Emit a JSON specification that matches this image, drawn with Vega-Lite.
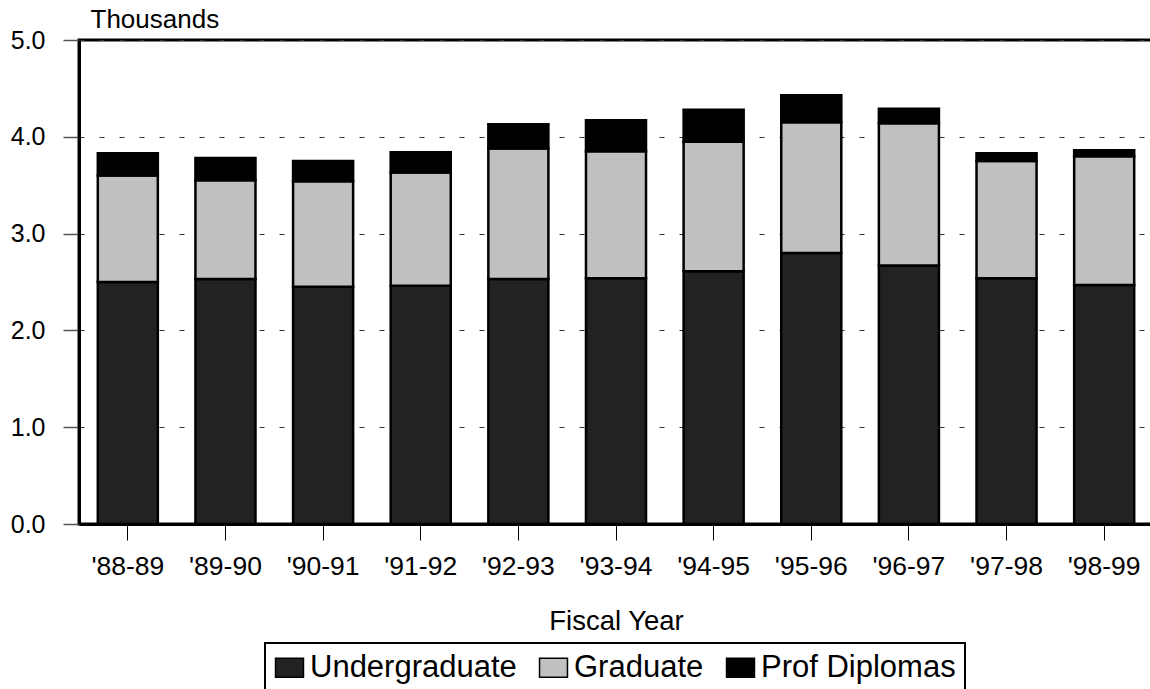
{
  "$schema": "https://vega.github.io/schema/vega-lite/v6.json",
  "autosize": "none",
  "width": 1074,
  "height": 484,
  "padding": {"left": 79, "top": 40, "right": 0, "bottom": 165},
  "background": "white",
  "config": {
    "font": "Liberation Sans",
    "view": {"stroke": "black", "strokeWidth": 3},
    "axis": {"labelColor": "black", "titleColor": "black", "titleFontWeight": "normal"}
  },
  "data": {
    "values": [
      {"year": "'88-89", "level": "Undergraduate", "k": 1, "value": 2.50},
      {"year": "'88-89", "level": "Graduate", "k": 2, "value": 1.10},
      {"year": "'88-89", "level": "Prof Diplomas", "k": 3, "value": 0.23},
      {"year": "'89-90", "level": "Undergraduate", "k": 1, "value": 2.53},
      {"year": "'89-90", "level": "Graduate", "k": 2, "value": 1.02},
      {"year": "'89-90", "level": "Prof Diplomas", "k": 3, "value": 0.23},
      {"year": "'90-91", "level": "Undergraduate", "k": 1, "value": 2.45},
      {"year": "'90-91", "level": "Graduate", "k": 2, "value": 1.09},
      {"year": "'90-91", "level": "Prof Diplomas", "k": 3, "value": 0.21},
      {"year": "'91-92", "level": "Undergraduate", "k": 1, "value": 2.46},
      {"year": "'91-92", "level": "Graduate", "k": 2, "value": 1.17},
      {"year": "'91-92", "level": "Prof Diplomas", "k": 3, "value": 0.21},
      {"year": "'92-93", "level": "Undergraduate", "k": 1, "value": 2.53},
      {"year": "'92-93", "level": "Graduate", "k": 2, "value": 1.35},
      {"year": "'92-93", "level": "Prof Diplomas", "k": 3, "value": 0.25},
      {"year": "'93-94", "level": "Undergraduate", "k": 1, "value": 2.54},
      {"year": "'93-94", "level": "Graduate", "k": 2, "value": 1.31},
      {"year": "'93-94", "level": "Prof Diplomas", "k": 3, "value": 0.32},
      {"year": "'94-95", "level": "Undergraduate", "k": 1, "value": 2.61},
      {"year": "'94-95", "level": "Graduate", "k": 2, "value": 1.34},
      {"year": "'94-95", "level": "Prof Diplomas", "k": 3, "value": 0.33},
      {"year": "'95-96", "level": "Undergraduate", "k": 1, "value": 2.80},
      {"year": "'95-96", "level": "Graduate", "k": 2, "value": 1.35},
      {"year": "'95-96", "level": "Prof Diplomas", "k": 3, "value": 0.28},
      {"year": "'96-97", "level": "Undergraduate", "k": 1, "value": 2.67},
      {"year": "'96-97", "level": "Graduate", "k": 2, "value": 1.47},
      {"year": "'96-97", "level": "Prof Diplomas", "k": 3, "value": 0.15},
      {"year": "'97-98", "level": "Undergraduate", "k": 1, "value": 2.54},
      {"year": "'97-98", "level": "Graduate", "k": 2, "value": 1.21},
      {"year": "'97-98", "level": "Prof Diplomas", "k": 3, "value": 0.08},
      {"year": "'98-99", "level": "Undergraduate", "k": 1, "value": 2.47},
      {"year": "'98-99", "level": "Graduate", "k": 2, "value": 1.33},
      {"year": "'98-99", "level": "Prof Diplomas", "k": 3, "value": 0.06}
    ]
  },
  "mark": {"type": "bar", "stroke": "black", "strokeWidth": 2.5, "opacity": 1},
  "encoding": {
    "x": {
      "field": "year",
      "type": "nominal",
      "sort": null,
      "scale": {"paddingInner": 0.385, "paddingOuter": 0.1925},
      "axis": {
        "title": "Fiscal Year",
        "titleFontSize": 27.5,
        "titleY": 105,
        "titleBaseline": "alphabetic",
        "labelAngle": 0,
        "labelFontSize": 26.5,
        "labelPadding": 13,
        "tickSize": 16,
        "tickColor": "black",
        "tickWidth": 1,
        "domainColor": "black",
        "domainWidth": 3
      }
    },
    "y": {
      "field": "value",
      "type": "quantitative",
      "stack": "zero",
      "scale": {"domain": [0, 5], "nice": false},
      "axis": {
        "title": "Thousands",
        "titleAngle": 0,
        "titleFontSize": 26,
        "titleX": 11,
        "titleY": -13,
        "titleAlign": "left",
        "titleBaseline": "alphabetic",
        "values": [0, 1, 2, 3, 4, 5],
        "format": ".1f",
        "labelFontSize": 25,
        "labelPadding": 18,
        "tickSize": 16,
        "tickColor": "#555555",
        "tickWidth": 1.5,
        "domainColor": "black",
        "domainWidth": 3,
        "grid": true,
        "gridColor": "#333333",
        "gridDash": [5, 15],
        "gridWidth": 1.2
      }
    },
    "color": {
      "field": "level",
      "type": "nominal",
      "scale": {
        "domain": ["Undergraduate", "Graduate", "Prof Diplomas"],
        "range": ["#222222", "#c0c0c0", "#000000"]
      },
      "legend": {
        "title": null,
        "orient": "none",
        "direction": "horizontal",
        "legendX": 186,
        "legendY": 603,
        "strokeColor": "black",
        "padding": 9,
        "fillColor": "white",
        "labelFontSize": 31,
        "labelLimit": 500,
        "labelColor": "black",
        "labelOffset": 5,
        "columnPadding": 19,
        "symbolType": "M-1.47,-1H1.47V1H-1.47Z",
        "symbolSize": 361,
        "symbolStrokeColor": "black",
        "symbolStrokeWidth": 1.5,
        "symbolOpacity": 1,
        "encode": {"legend": {"update": {"strokeWidth": {"value": 2}}}}
      }
    },
    "order": {"field": "k", "type": "quantitative"}
  }
}
